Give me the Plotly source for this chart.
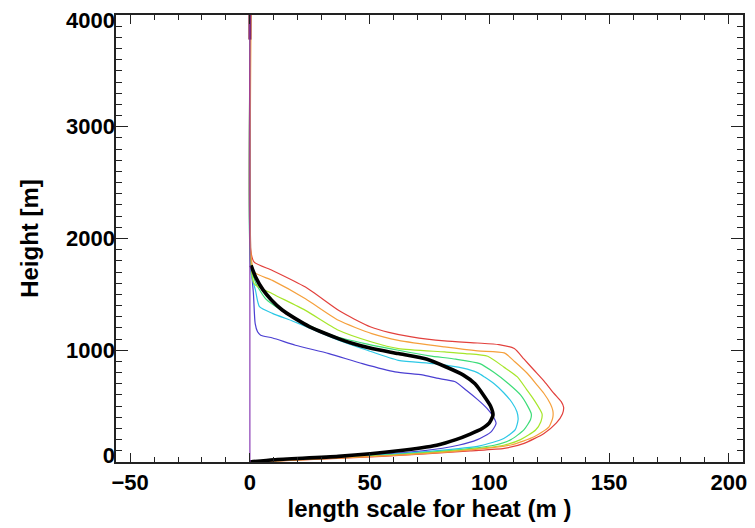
import plotly.graph_objects as go

# ---------------- data ----------------
x_ticks = [-50, 0, 50, 100, 150, 200]
y_ticks = [0, 1000, 2000, 3000, 4000]
y_tick_text = ["0", "1000", "2000", "3000", "4000"]

purple_z = [0, 4000]
purple_x = [0, 0]

top_z = [3780, 4000]
top_x = [0, 0]

blue_z = [0, 15, 50, 100, 150, 200, 270, 345, 410, 480, 560, 640, 720, 750, 780, 806, 880, 970, 1045, 1110, 1135, 1165, 1240, 1500, 1800, 4000]
blue_x = [0, 12, 42, 72, 87, 95, 100.7, 102.8, 101.5, 99, 95, 90.5, 85.5, 78, 72, 60.6, 47, 33, 19, 9.5, 4.5, 3.2, 2.2, 1.5, 0.4, 0.2]

cyan_z = [0, 15, 50, 100, 145, 210, 290, 380, 450, 530, 620, 700, 760, 800, 840, 880, 910, 1000, 1090, 1180, 1260, 1330, 1390, 1540, 1700, 4000]
cyan_x = [0, 13, 45, 77, 96, 106, 110.8, 112, 111.5, 109.5, 106, 102, 98, 95, 89, 77, 62, 49, 37, 27, 18, 9.4, 4.0, 2.3, 0.4, 0.2]

green_z = [0, 15, 50, 100, 150, 200, 290, 380, 430, 500, 600, 700, 800, 880, 920, 950, 1000, 1060, 1130, 1250, 1360, 1460, 1600, 1750, 4000]
green_x = [0, 14, 48, 82, 102, 109, 114.5, 117.2, 117.5, 116, 113, 108, 102, 96, 86, 75, 62, 48, 35, 22, 13, 6.6, 2.5, 0.4, 0.2]

yellow_z = [0, 15, 50, 100, 150, 200, 286, 360, 430, 554, 650, 762, 850, 946, 970, 985, 1015, 1074, 1179, 1357, 1506, 1595, 1800, 4000]
yellow_x = [0, 15, 50, 85, 106, 113, 119.3, 121.5, 122, 118.7, 115.5, 111.7, 106, 99.3, 90, 81.3, 62, 50.9, 37, 23.2, 9.4, 1.8, 0.4, 0.2]

orange_z = [0, 15, 50, 100, 152, 226, 315, 400, 460, 520, 613, 700, 792, 900, 976, 994, 1030, 1089, 1149, 1268, 1461, 1625, 1699, 1850, 4000]
orange_x = [0, 16, 52, 88, 109, 118.7, 124.9, 126.5, 126.5, 125.5, 122.8, 119.5, 115.9, 110.5, 106.2, 95.1, 81.3, 62, 50.9, 37, 23.2, 9.4, 1.8, 0.5, 0.5]

red_z = [0, 15, 50, 100, 122, 167, 256, 350, 430, 490, 540, 613, 720, 821, 920, 1015, 1050, 1065, 1083, 1119, 1160, 1208, 1280, 1357, 1565, 1714, 1788, 1900, 4000]
red_x = [0, 17, 55, 92, 106.2, 114.5, 122.8, 128, 130.5, 131, 130, 127, 123, 118.7, 114.5, 110.4, 104, 95, 81.3, 67.5, 58, 50.5, 43.5, 37, 23.2, 9.4, 1.8, 0.3, 0.2]

black_z = [0, 20, 50, 100, 150, 200, 250, 300, 350, 420, 500, 600, 700, 780, 850, 920, 970, 1015, 1060, 1100, 1150, 1210, 1290, 1360, 1450, 1540, 1650, 1760]
black_x = [0, 10, 37, 62, 78, 86, 92, 97, 100, 101.5, 100.5, 97.5, 94, 89, 82, 74, 62, 51, 43, 37.5, 31.5, 25, 18.5, 13.5, 9, 5.5, 2.5, 0.5]

# ---------------- figure ----------------
X_RANGE = [-55.9, 205.9]
Y_RANGE = [0, 4000]
FONT = "Liberation Sans, Arial, sans-serif"
AXC = "#222222"

fig = go.Figure()

series = [
    (blue_x, blue_z, "#4b3fd2", 1.2),
    (cyan_x, cyan_z, "#2cc8e6", 1.2),
    (green_x, green_z, "#3cdc78", 1.2),
    (yellow_x, yellow_z, "#a6e62a", 1.2),
    (red_x, red_z, "#e2403c", 1.2),
    (orange_x, orange_z, "#f5a03c", 1.2),
]
for xs, zs, col, w in series:
    fig.add_trace(go.Scatter(x=xs, y=zs, mode="lines",
                             line=dict(color=col, width=w, shape="spline", smoothing=0.6),
                             showlegend=False, hoverinfo="skip"))

fig.add_trace(go.Scatter(x=black_x, y=black_z, mode="lines",
                         line=dict(color="black", width=3.6, shape="spline", smoothing=0.6),
                         showlegend=False, hoverinfo="skip"))
fig.add_trace(go.Scatter(x=top_x, y=top_z, mode="lines",
                         line=dict(color="#7a1838", width=3),
                         showlegend=False, hoverinfo="skip"))
# purple vertical profile, drawn on the overlay axis that carries the y labels
fig.add_trace(go.Scatter(x=purple_x, y=purple_z, mode="lines", yaxis="y2",
                         line=dict(color="#8a3cb4", width=1.2),
                         showlegend=False, hoverinfo="skip"))

fig.update_layout(
    width=755, height=528,
    margin=dict(l=116, r=8, t=14, b=66),
    paper_bgcolor="white", plot_bgcolor="white",
    font=dict(family=FONT, color="black"),
    xaxis=dict(
        range=X_RANGE, showgrid=False, zeroline=False,
        showline=True, linecolor=AXC, linewidth=1.5, mirror="ticks",
        ticks="inside", ticklen=9, tickwidth=1.2, tickcolor=AXC,
        tickvals=x_ticks, tickfont=dict(size=22, family=FONT, weight="bold"),
        minor=dict(dtick=10, tick0=0, ticks="inside", ticklen=5, tickwidth=1, tickcolor=AXC),
        title=dict(text="length scale for heat (m )", standoff=6,
                   font=dict(size=24, family=FONT, weight="bold")),
    ),
    yaxis=dict(
        range=Y_RANGE, showgrid=False, zeroline=False,
        showline=True, linecolor=AXC, linewidth=1.5, mirror="ticks",
        ticks="inside", ticklen=12.6, tickwidth=1.2, tickcolor=AXC,
        tickvals=y_ticks, showticklabels=False,
        minor=dict(dtick=100, tick0=0, ticks="inside", ticklen=6.3, tickwidth=1, tickcolor=AXC),
    ),
    yaxis2=dict(
        range=Y_RANGE, overlaying="y", side="left", showgrid=False, zeroline=False,
        showline=False, ticks="",
        # end labels sit slightly inside the frame, as in the original
        tickvals=[62, 1000, 2000, 3000, 3950], ticktext=y_tick_text,
        tickfont=dict(size=22, family=FONT, weight="bold"),
        title=dict(text="Height [m]", standoff=20,
                   font=dict(size=24, family=FONT, weight="bold")),
    ),
)

fig.write_html("out.html")
